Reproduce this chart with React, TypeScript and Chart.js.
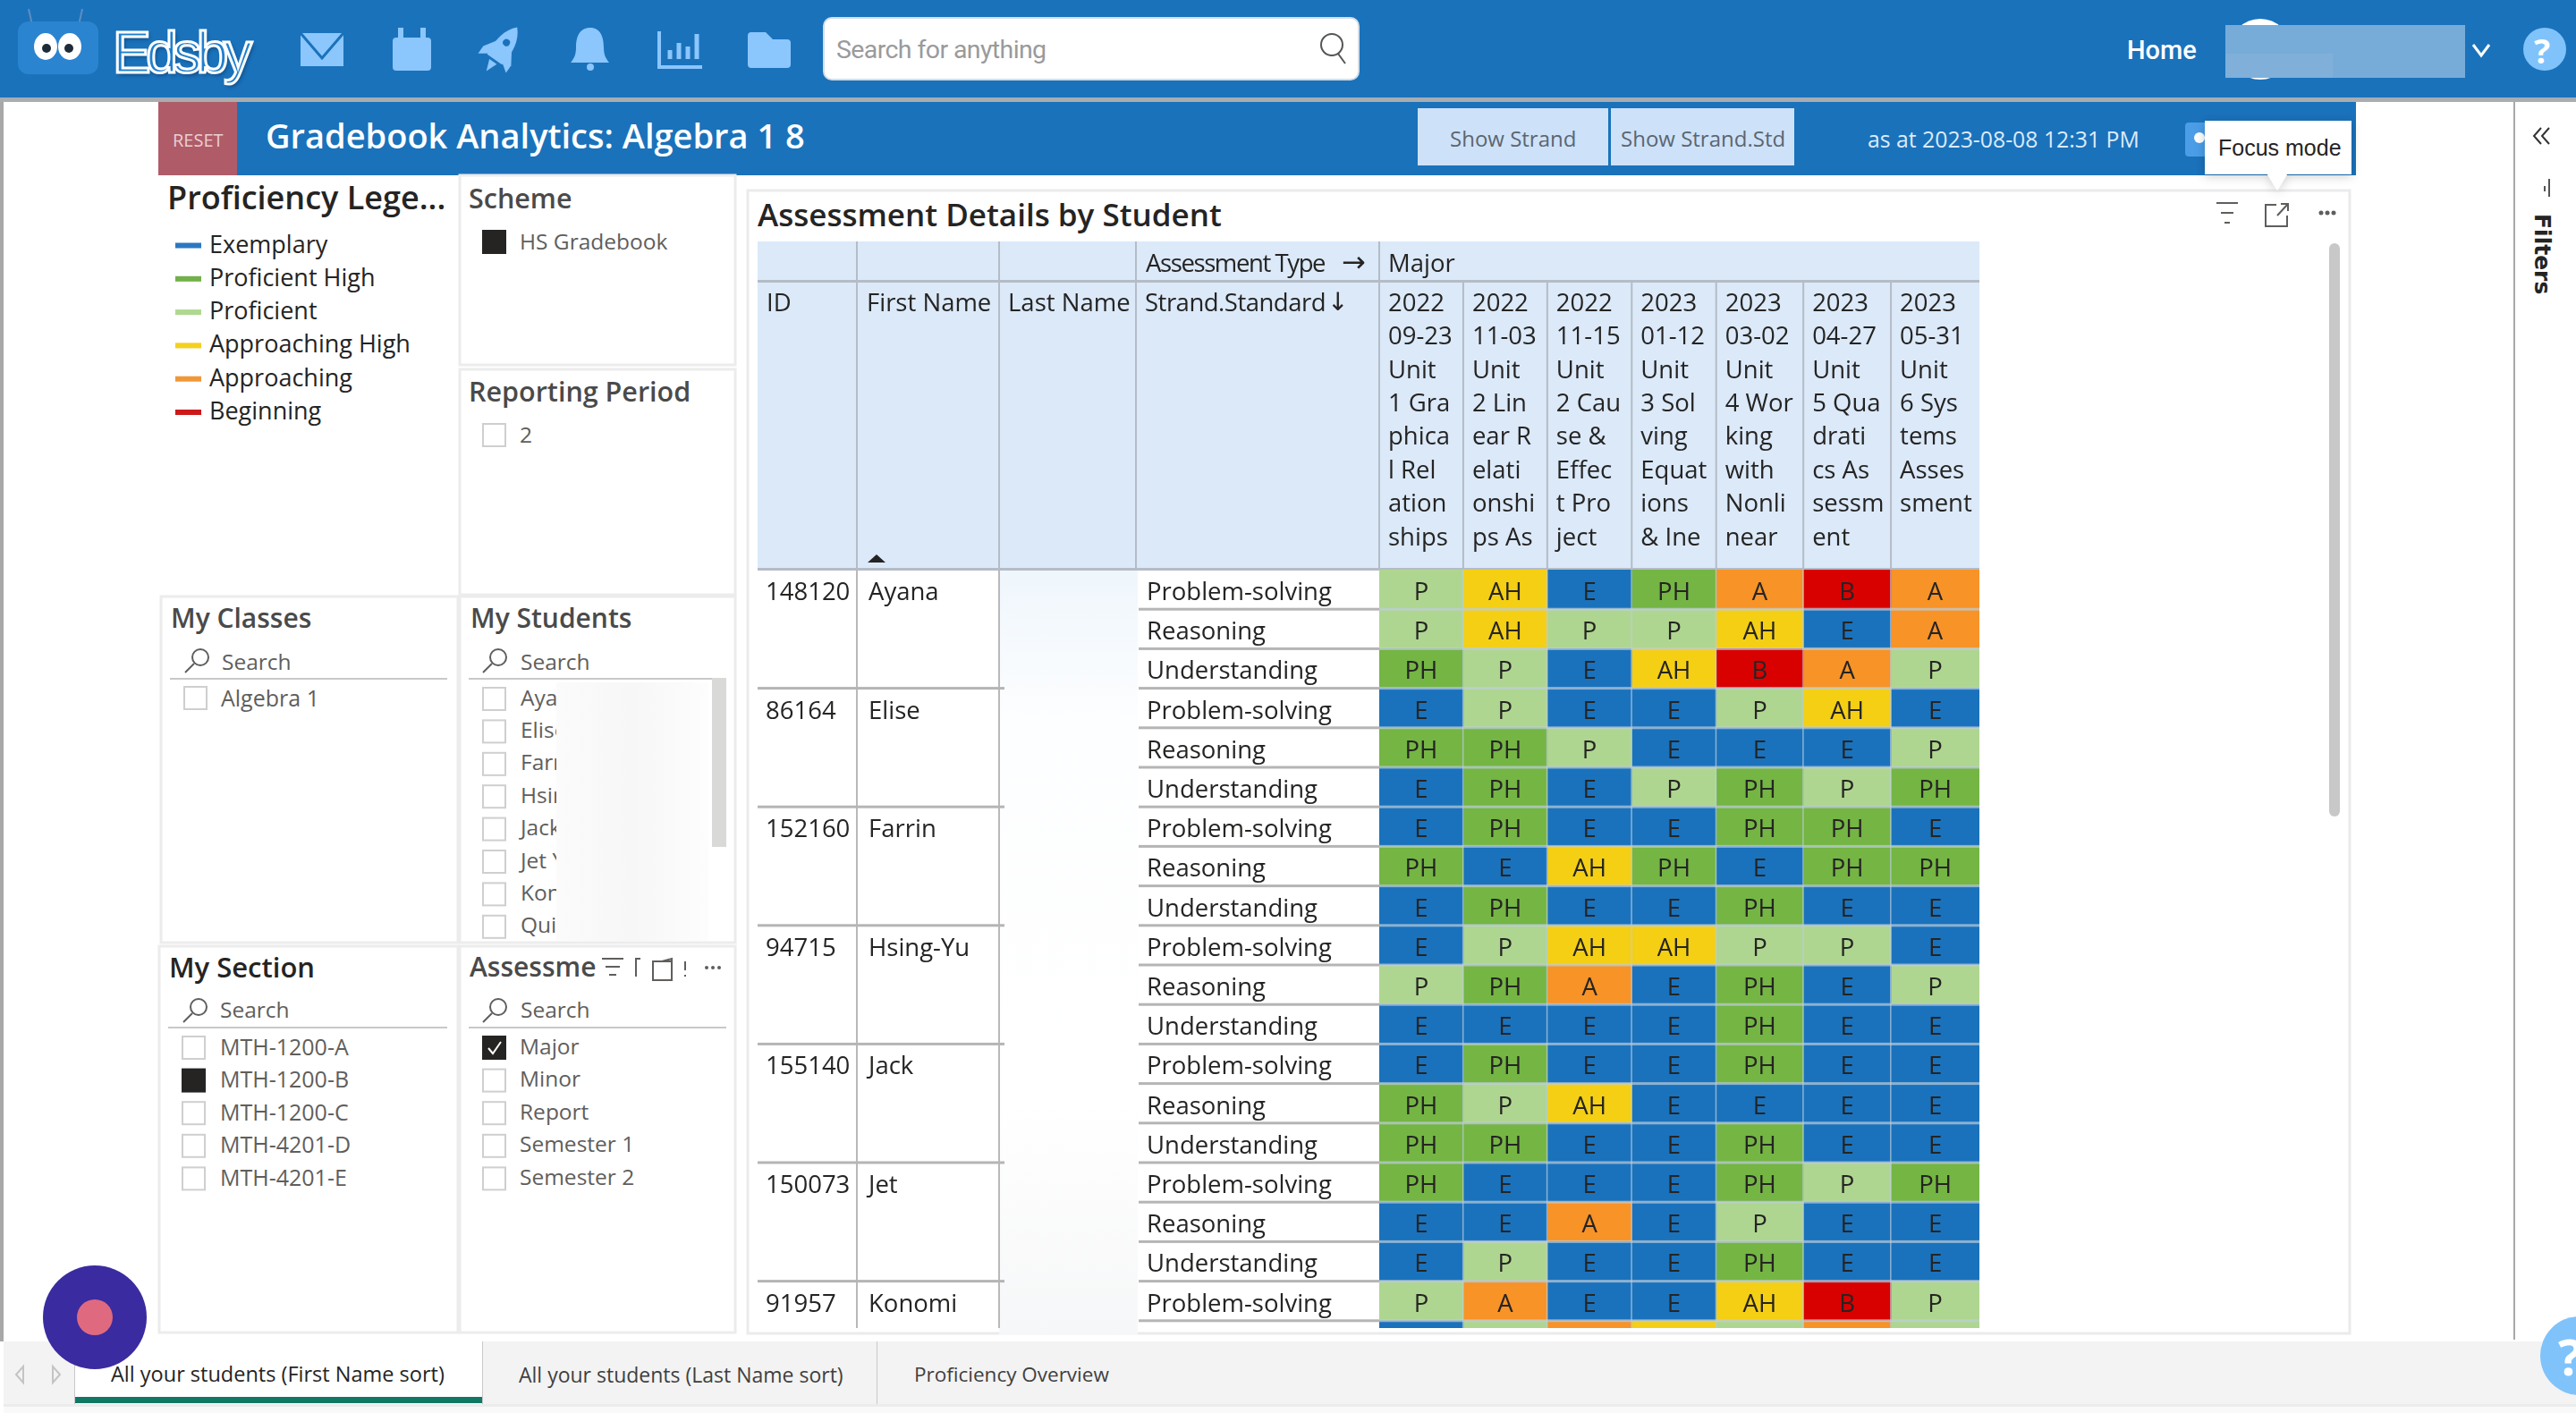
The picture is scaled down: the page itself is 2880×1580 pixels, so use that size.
import { useEffect, useRef } from 'react'
import { Chart, registerables } from 'chart.js'

Chart.register(...registerables)

const FONT = '"Open Sans", sans-serif'
const NAV_FONT = 'Roboto, sans-serif'

// table content
const studentIds = ['148120', '86164', '152160', '94715', '155140', '150073', '91957']
const firstNames = ['Ayana', 'Elise', 'Farrin', 'Hsing-Yu', 'Jack', 'Jet', 'Konomi']
const strands = ['Problem-solving', 'Reasoning', 'Understanding']
const headerTitles = ['ID', 'First Name', 'Last Name', 'Strand.Standard']
const assessmentHeaders = [
  ['2022', '09-23', 'Unit', '1 Gra', 'phica', 'l Rel', 'ation', 'ships'],
  ['2022', '11-03', 'Unit', '2 Lin', 'ear R', 'elati', 'onshi', 'ps As'],
  ['2022', '11-15', 'Unit', '2 Cau', 'se &', 'Effec', 't Pro', 'ject'],
  ['2023', '01-12', 'Unit', '3 Sol', 'ving', 'Equat', 'ions', '& Ine'],
  ['2023', '03-02', 'Unit', '4 Wor', 'king', 'with', 'Nonli', 'near'],
  ['2023', '04-27', 'Unit', '5 Qua', 'drati', 'cs As', 'sessm', 'ent'],
  ['2023', '05-31', 'Unit', '6 Sys', 'tems', 'Asses', 'sment', ''],
]

const ayanaGrades = [
  ['P', 'AH', 'E', 'PH', 'A', 'B', 'A'],
  ['P', 'AH', 'P', 'P', 'AH', 'E', 'A'],
  ['PH', 'P', 'E', 'AH', 'B', 'A', 'P'],
]
const eliseGrades = [
  ['E', 'P', 'E', 'E', 'P', 'AH', 'E'],
  ['PH', 'PH', 'P', 'E', 'E', 'E', 'P'],
  ['E', 'PH', 'E', 'P', 'PH', 'P', 'PH'],
]
const farrinGrades = [
  ['E', 'PH', 'E', 'E', 'PH', 'PH', 'E'],
  ['PH', 'E', 'AH', 'PH', 'E', 'PH', 'PH'],
  ['E', 'PH', 'E', 'E', 'PH', 'E', 'E'],
]
const hsingYuGrades = [
  ['E', 'P', 'AH', 'AH', 'P', 'P', 'E'],
  ['P', 'PH', 'A', 'E', 'PH', 'E', 'P'],
  ['E', 'E', 'E', 'E', 'PH', 'E', 'E'],
]
const jackGrades = [
  ['E', 'PH', 'E', 'E', 'PH', 'E', 'E'],
  ['PH', 'P', 'AH', 'E', 'E', 'E', 'E'],
  ['PH', 'PH', 'E', 'E', 'PH', 'E', 'E'],
]
const jetGrades = [
  ['PH', 'E', 'E', 'E', 'PH', 'P', 'PH'],
  ['E', 'E', 'A', 'E', 'P', 'E', 'E'],
  ['E', 'P', 'E', 'E', 'PH', 'E', 'E'],
]
const konomiGrades = [
  ['P', 'A', 'E', 'E', 'AH', 'B', 'P'],
  ['E', 'P', 'A', 'AH', 'P', 'A', 'P'],
]

const legendNames = ['Exemplary', 'Proficient High', 'Proficient', 'Approaching High', 'Approaching', 'Beginning']
const studentSlicer = ['Ayana', 'Elise', 'Farrin', 'Hsing', 'Jack', 'Jet Y', 'Konomi', 'Quinn']
const sectionSlicer = ['MTH-1200-A', 'MTH-1200-B', 'MTH-1200-C', 'MTH-4201-D', 'MTH-4201-E']
const assessmentSlicer = ['Major', 'Minor', 'Report', 'Semester 1', 'Semester 2']

// styles and table layout
const gradeColors: Record<string, string> = {
  E: '#1a72bc', PH: '#74b544', P: '#afd690', AH: '#f4cf14', A: '#f79327', B: '#d90000',
}
const legendColors = ['#2a78c0', '#72b04a', '#b0d890', '#f4d020', '#f09838', '#cc1a1a']
const leftColumnWidths = [111, 159, 153, 272]
const gradeColumnWidths = [94, 94, 94.5, 94.5, 97.5, 98, 99]
const HEADER_HEIGHT = 367
const ROW_HEIGHT = 44.2

const gradeRows = [
  ...ayanaGrades, ...eliseGrades, ...farrinGrades, ...hsingYuGrades,
  ...jackGrades, ...jetGrades, ...konomiGrades,
]
const rowLabels = gradeRows.map((_, i) => strands[i % 3])

const tableText = '#252423'
const cellFont = `27.5px ${FONT}`
const arrowFont = '32px "DejaVu Sans", sans-serif'
const TEXT_NUDGE = 4

const tablePlugin = {
  id: 'tableGrid',
  beforeDatasetsDraw(chart: any) {
    const { ctx, chartArea, scales } = chart
    const right = chartArea.right
    ctx.save()
    ctx.fillStyle = '#dbe9f9'
    ctx.fillRect(0, 0, right, HEADER_HEIGHT)

    ctx.font = cellFont
    ctx.fillStyle = tableText
    ctx.textBaseline = 'middle'
    ctx.textAlign = 'left'

    let left = 0
    leftColumnWidths.forEach((w, i) => {
      ctx.letterSpacing = i === 3 ? '-0.5px' : '0px'
      ctx.fillText(headerTitles[i], left + (i === 1 ? 11 : 10), 70)
      left += w
      ctx.fillStyle = '#b4bcc6'
      ctx.fillRect(left - 1, 0, 2, HEADER_HEIGHT)
      ctx.fillStyle = tableText
    })
    ctx.letterSpacing = '-1.4px'
    ctx.fillText('Assessment Type', chartArea.left - 261, 26)
    ctx.letterSpacing = '0px'
    ctx.fillText('Major', chartArea.left + 10, 26)
    ctx.font = arrowFont
    ctx.fillText('→', chartArea.left - 42, 26)
    ctx.font = `28px "DejaVu Sans", sans-serif`
    ctx.fillText('↓', chartArea.left - 58, 70)
    ctx.font = cellFont

    let sum = 0
    gradeColumnWidths.forEach((w, c) => {
      const colLeft = scales.x.getPixelForValue(sum)
      assessmentHeaders[c].forEach((line, l) => {
        ctx.fillText(line, colLeft + 10, 70 + l * 37.4)
      })
      sum += w
      if (c < gradeColumnWidths.length - 1) {
        ctx.fillStyle = '#b4bcc6'
        ctx.fillRect(scales.x.getPixelForValue(sum) - 1, 45, 2, HEADER_HEIGHT - 45)
        ctx.fillStyle = tableText
      }
    })

    ctx.fillStyle = '#b4bcc6'
    ctx.fillRect(0, 43, right, 3)
    ctx.fillRect(0, HEADER_HEIGHT - 2, right, 3)

    // sort marker
    ctx.fillStyle = '#252423'
    ctx.beginPath()
    ctx.moveTo(123, 359)
    ctx.lineTo(143, 359)
    ctx.lineTo(133, 350)
    ctx.closePath()
    ctx.fill()

    // row header columns
    const yScale = scales.y
    const band = yScale.getPixelForValue(1) - yScale.getPixelForValue(0)
    const idColumn = leftColumnWidths[0]
    const nameColumn = idColumn + leftColumnWidths[1]
    const strandLeft = nameColumn + leftColumnWidths[2] + 156 - 153
    ctx.fillStyle = '#b9b9b9'
    ctx.fillRect(idColumn - 1, HEADER_HEIGHT, 2, chart.height - HEADER_HEIGHT)
    ctx.fillRect(nameColumn - 1, HEADER_HEIGHT, 2, chart.height - HEADER_HEIGHT)

    rowLabels.forEach((_, i) => {
      const mid = yScale.getPixelForValue(i)
      ctx.fillStyle = tableText
      ctx.fillText(yScale.getLabelForValue(i), strandLeft + 9, mid + TEXT_NUDGE)
      if (i % 3 === 0) {
        const s = i / 3
        ctx.fillText(studentIds[s], 9, mid + TEXT_NUDGE)
        ctx.fillText(firstNames[s], idColumn + 13, mid + TEXT_NUDGE)
      }
      ctx.fillStyle = '#b5b5b5'
      const bottom = mid + band / 2
      ctx.fillRect(strandLeft, bottom - 1.5, chartArea.left - strandLeft, 3)
      if (i % 3 === 2) ctx.fillRect(0, bottom - 1.5, nameColumn + 6, 3)
    })
    ctx.restore()
  },
  afterDatasetsDraw(chart: any) {
    const { ctx, chartArea, scales } = chart
    const yScale = scales.y
    const band = yScale.getPixelForValue(1) - yScale.getPixelForValue(0)
    ctx.save()
    ctx.fillStyle = 'rgba(190, 205, 220, 0.7)'
    rowLabels.forEach((_, i) => {
      const bottom = yScale.getPixelForValue(i) + band / 2
      ctx.fillRect(chartArea.left, bottom - 1.5, chartArea.right - chartArea.left, 3)
    })
    let sum = 0
    gradeColumnWidths.slice(0, -1).forEach((w) => {
      sum += w
      ctx.fillRect(scales.x.getPixelForValue(sum) - 1, chartArea.top, 1.5, chartArea.bottom - chartArea.top)
    })

    ctx.font = cellFont
    ctx.fillStyle = '#252423'
    ctx.textAlign = 'center'
    ctx.textBaseline = 'middle'
    chart.data.datasets.forEach((_: any, c: number) => {
      chart.getDatasetMeta(c).data.forEach((bar: any, r: number) => {
        const p = bar.getProps(['x', 'y', 'base'], true)
        ctx.fillText(gradeRows[r][c], (p.x + p.base) / 2, p.y + TEXT_NUDGE)
      })
    })
    ctx.restore()
  },
}

function GradeTable() {
  const canvasRef = useRef<HTMLCanvasElement>(null)

  useEffect(() => {
    if (!canvasRef.current) return
    const chart = new Chart(canvasRef.current, {
      type: 'bar',
      data: {
        labels: rowLabels,
        datasets: gradeColumnWidths.map((w, c) => ({
          label: assessmentHeaders[c].join(' '),
          data: gradeRows.map(() => w),
          backgroundColor: gradeRows.map((row) => gradeColors[row[c]]),
          barPercentage: 1,
          categoryPercentage: 1,
          borderWidth: 0,
        })),
      },
      options: {
        indexAxis: 'y',
        animation: false,
        responsive: false,
        devicePixelRatio: 1,
        layout: { padding: { left: 695, top: HEADER_HEIGHT, right: 0, bottom: 0 } },
        plugins: { legend: { display: false }, tooltip: { enabled: false } },
        scales: {
          x: { type: 'linear', stacked: true, display: false, min: 0, max: gradeColumnWidths.reduce((a, b) => a + b, 0) },
          y: { type: 'category', stacked: true, display: false },
        },
      },
      plugins: [tablePlugin],
    })
    return () => chart.destroy()
  }, [])

  return (
    <div style={{ position: 'absolute', left: 847, top: 270, width: 1366, height: 1215, overflow: 'hidden' }}>
      <canvas
        ref={canvasRef}
        width={1366}
        height={HEADER_HEIGHT + ROW_HEIGHT * gradeRows.length}
        style={{ display: 'block' }}
      />
    </div>
  )
}

function T({ x, y, size = 25, weight = 400, color = '#605e5c', font = FONT, spacing = 0, children }: any) {
  return (
    <div
      style={{
        position: 'absolute', left: x, top: y - 1.5, transform: 'translateY(-50%)', fontFamily: font,
        fontSize: size, fontWeight: weight, color, whiteSpace: 'nowrap', lineHeight: 1, letterSpacing: spacing,
      }}
    >
      {children}
    </div>
  )
}

function Panel({ x, y, w, h }: any) {
  return <rect x={x} y={y} width={w} height={h} fill="#fff" stroke="#ececec" strokeWidth={3} />
}

function Box({ x, y, filled = false, check = false }: any) {
  return (
    <g>
      <rect x={x} y={y} width={25} height={25} fill={filled ? '#252423' : '#fff'} stroke={filled ? '#252423' : '#cfcfcf'} strokeWidth={2} />
      {check && <path d={`M${x + 6} ${y + 13}l5 6l9 -13`} fill="none" stroke="#fff" strokeWidth={2} />}
    </g>
  )
}

function SearchGlass({ x, y }: any) {
  return (
    <g fill="none" stroke="#605e5c" strokeWidth={2}>
      <circle cx={x + 4} cy={y - 4} r={9} />
      <path d={`M${x - 3} ${y + 3}L${x - 13} ${y + 13}`} />
    </g>
  )
}

function Chrome() {
  const iconBlue = '#8bc6fd'
  return (
    <svg width={2880} height={1580} style={{ position: 'absolute', left: 0, top: 0 }}>
      <defs>
        <linearGradient id="blurTop" x1="0" y1="0" x2="0" y2="1">
          <stop offset="0" stopColor="#eff6fc" />
          <stop offset="0.2" stopColor="#fdfeff" />
          <stop offset="0.7" stopColor="#ffffff" />
          <stop offset="1" stopColor="#f6f7f8" />
        </linearGradient>
        <filter id="tipShadow" x="-20%" y="-20%" width="140%" height="150%">
          <feDropShadow dx="0" dy="2" stdDeviation="6" floodColor="#000" floodOpacity="0.2" />
        </filter>
      </defs>

      {/* page frame */}
      <rect x={0} y={0} width={2880} height={1580} fill="#fff" />
      <rect x={0} y={114} width={4} height={1386} fill="#a8a8a8" />
      <rect x={2810} y={114} width={2} height={1384} fill="#a8a8a8" />

      {/* nav bar */}
      <rect x={0} y={0} width={2880} height={109} fill="#1a72bb" />
      <rect x={0} y={109} width={2880} height={5} fill="#a9adb1" />
      <path d="M36 28l-4 -18M88 28l4 -18" stroke="#5d8fc0" strokeWidth={2} />
      <rect x={20} y={24} width={90} height={59} rx={12} fill="#2b84d0" />
      <ellipse cx={51} cy={52} rx={13} ry={15} fill="#fff" />
      <ellipse cx={78} cy={52} rx={13} ry={15} fill="#fff" />
      <circle cx={52} cy={54} r={5} fill="#1e2c3a" />
      <circle cx={77} cy={54} r={5} fill="#1e2c3a" />

      <path d="M336 37h48v37h-48z" fill={iconBlue} />
      <path d="M336 37l24 28l24 -28" fill="none" stroke="#1a72bb" strokeWidth={3} />
      <rect x={439} y={42} width={43} height={37} rx={4} fill={iconBlue} />
      <path d="M448 31v14M473 31v14" stroke={iconBlue} strokeWidth={6} />
      <g transform="rotate(35 561 55)" fill={iconBlue}>
        <path d="M561 25c10 10 13 26 10 44h-20c-3 -18 0 -34 10 -44z" />
        <path d="M551 50l-9 14v10l10 -7z" />
        <path d="M571 50l9 14v10l-10 -7z" />
        <path d="M556 72h10l-5 13z" />
        <circle cx={561} cy={46} r={4} fill="#1a72bb" />
      </g>
      <path d="M660 31c-12 0 -16 10 -16 22c0 8 -2 12 -6 17h43c-4 -5 -6 -9 -6 -17c0 -12 -4 -22 -15 -22z" fill={iconBlue} />
      <circle cx={660} cy={75} r={4} fill={iconBlue} />
      <path d="M737 35v40h48" fill="none" stroke={iconBlue} strokeWidth={4} />
      <path d="M749 56v10M759 48v18M769 52v14M779 38v28" stroke={iconBlue} strokeWidth={5} />
      <path d="M836 40q0 -4 4 -4h16l8 8h16q4 0 4 4v24q0 4 -4 4h-40q-4 0 -4 -4z" fill={iconBlue} />

      <rect x={921} y={20} width={598} height={69} rx={9} fill="#fff" stroke="#d3dde6" strokeWidth={2} />
      <g fill="none" stroke="#555" strokeWidth={2}>
        <circle cx={1489} cy={50} r={12} />
        <path d="M1496 60l8 11" />
      </g>

      <circle cx={2527} cy={55} r={34} fill="#fff" />
      <rect x={2488} y={28} width={268} height={59} fill="#78acd8" />
      <rect x={2488} y={60} width={120} height={27} fill="#80b0da" />
      <path d="M2765 50l9 12l9 -12" fill="none" stroke="#fff" strokeWidth={3} />
      <circle cx={2845} cy={55} r={24} fill="#80c3fb" />

      {/* report banner */}
      <rect x={177} y={114} width={2457} height={82} fill="#1a72bb" />
      <rect x={177} y={114} width={88} height={82} fill="#b05b68" />
      <rect x={1585} y={121} width={213} height={64} fill="#cde2f9" />
      <rect x={1801} y={121} width={205} height={64} fill="#cde2f9" />
      <rect x={2443} y={137} width={30} height={38} rx={4} fill="#4a9de6" />
      <circle cx={2459} cy={154} r={6} fill="#fff" />

      {/* slicer panels */}
      <Panel x={514} y={196} w={308} h={212} />
      <Panel x={514} y={413} w={308} h={252} />
      <Panel x={180} y={667} w={332} h={387} />
      <Panel x={514} y={667} w={308} h={387} />
      <Panel x={178} y={1058} w={334} h={432} />
      <Panel x={514} y={1058} w={308} h={432} />

      {legendColors.map((color, i) => (
        <rect key={color} x={196} y={271.5 + i * 37.3} width={29} height={6} fill={color} />
      ))}

      <Box x={540} y={258} filled />
      <Box x={540} y={474} />
      <Box x={206} y={768} />
      {studentSlicer.map((name, i) => <Box key={name} x={540} y={769 + i * 36.4} />)}
      {sectionSlicer.map((name, i) => <Box key={name} x={204} y={1159 + i * 36.6} filled={i === 1} />)}
      {assessmentSlicer.map((name, i) => <Box key={name} x={540} y={1159 + i * 36.6} filled={i === 0} check={i === 0} />)}

      {[[190, 500, 758], [524, 812, 758], [188, 500, 1148], [524, 812, 1148]].map(([a, b, y]) => (
        <rect key={`${a}-${y}`} x={a} y={y} width={b - a} height={2} fill="#c8c8c8" />
      ))}
      <SearchGlass x={220} y={739} />
      <SearchGlass x={553} y={739} />
      <SearchGlass x={218} y={1130} />
      <SearchGlass x={553} y={1130} />

      <rect x={796} y={758} width={16} height={189} fill="#d9d9d7" />

      {/* assessment slicer header icons */}
      <g fill="none" stroke="#605e5c" strokeWidth={2}>
        <path d="M673 1072h24M677 1081h16M681 1090h8" />
        <path d="M711 1092v-20h5" />
        <rect x={730} y={1075} width={21} height={21} />
        <path d="M740 1075l11 -3v10" />
        <path d="M766 1075v10M766 1090v2" />
      </g>
      <g fill="#605e5c">
        <circle cx={790} cy={1082} r={2} /><circle cx={797} cy={1082} r={2} /><circle cx={804} cy={1082} r={2} />
      </g>

      {/* table visual */}
      <rect x={836} y={213} width={1791} height={1278} fill="#fff" stroke="#ebebeb" strokeWidth={3} />
      <rect x={1117} y={637} width={155} height={856} fill="url(#blurTop)" />
      <rect x={2604} y={272} width={12} height={641} rx={6} fill="#c8c8c8" />
      <g fill="none" stroke="#605e5c" strokeWidth={2}>
        <path d="M2478 227h24M2483 238h14M2487 249h6" />
        <path d="M2545 229h-12v24h24v-12M2546 241l12 -13M2550 228h8v8" />
      </g>
      <g fill="#605e5c">
        <circle cx={2595} cy={238} r={2.5} /><circle cx={2602} cy={238} r={2.5} /><circle cx={2609} cy={238} r={2.5} />
      </g>

      {/* filters pane */}
      <path d="M2846 143l-8 9l8 9M2855 143l-8 9l8 9" fill="none" stroke="#333" strokeWidth={2} transform="translate(-5 0)" />
      <path d="M2850 200v20M2845 208v6" stroke="#555" strokeWidth={2} />

      {/* tabs */}
      <rect x={4} y={1500} width={2876} height={70} fill="#f3f3f3" />
      <rect x={4} y={1570} width={2876} height={3} fill="#ececec" />
      <rect x={4} y={1573} width={2876} height={7} fill="#f9f9f9" />
      <rect x={83} y={1500} width={456} height={70} fill="#fff" />
      <rect x={83} y={1562} width={456} height={7} fill="#117865" />
      <rect x={83} y={1500} width={1} height={70} fill="#c8c8c8" />
      <rect x={539} y={1500} width={1} height={70} fill="#c8c8c8" />
      <rect x={980} y={1500} width={1} height={70} fill="#c8c8c8" />
      <path d="M26 1528l-8 9l8 9zM59 1528l8 9l-8 9z" fill="none" stroke="#c4c4c4" strokeWidth={2} />
      <circle cx={2884} cy={1516} r={44} fill="#80c3fb" />

      {/* recording badge */}
      <circle cx={106} cy={1473} r={58} fill="#3a2ba0" />
      <circle cx={106} cy={1473} r={20} fill="#df6a80" />

      {/* focus mode tooltip */}
      <g filter="url(#tipShadow)">
        <path d="M2465 135h164v60h-72l-11 18l-11 -18h-70z" fill="#fff" />
      </g>
    </svg>
  )
}

export default function App() {
  const dark = '#252423'
  const head = '#4a4a4a'
  return (
    <div style={{ position: 'absolute', left: 0, top: 0, width: 2880, height: 1580, overflow: 'hidden', background: '#fff' }}>
      <Chrome />

      <T x={126} y={60} size={64} color="#1f7fce" font='"Liberation Sans", sans-serif' spacing={-5.5}>
        <span style={{ WebkitTextStroke: '3px #fff', textShadow: '2px 3px 4px rgba(0, 30, 70, 0.45)' }}>Edsby</span>
      </T>
      <T x={935} y={57.5} size={28.5} color="#9a9a9a" font={NAV_FONT} spacing={-0.6}>Search for anything</T>
      <T x={2378} y={57.5} size={29} color="#fff" font={NAV_FONT} weight={500}>Home</T>
      <T x={2833} y={57} size={38} color="#fff" weight={700}>?</T>
      <T x={2860} y={1517} size={56} color="#fff" weight={700}>?</T>

      <T x={193} y={158} size={20} color="#e8d0d4">RESET</T>
      <T x={297} y={152} size={38} color="#fff" weight={600}>Gradebook Analytics: Algebra 1 8</T>
      <T x={1621} y={156} size={24} color="#5c6670">Show Strand</T>
      <T x={1812} y={156} size={24} color="#5c6670">Show Strand.Std</T>
      <T x={2088} y={156} size={24.8} color="#dcebfa">as at 2023-08-08 12:31 PM</T>
      <T x={2480} y={166.5} size={25} color="#252423" font='"Liberation Sans", sans-serif'>Focus mode</T>

      <T x={187} y={222} size={36} color={dark} weight={600}>Proficiency Lege...</T>
      {legendNames.map((name, i) => (
        <T key={name} x={234} y={273 + i * 37.3} size={27} color={dark}>{name}</T>
      ))}
      <T x={524} y={222} size={30.5} color={head} weight={600}>Scheme</T>
      <T x={581} y={271} size={24.5}>HS Gradebook</T>
      <T x={524} y={438} size={30.5} color={head} weight={600}>Reporting Period</T>
      <T x={581} y={487} size={24.5}>2</T>

      <T x={191} y={692} size={30} color={head} weight={600}>My Classes</T>
      <T x={526} y={692} size={30} color={head} weight={600}>My Students</T>
      <T x={248} y={741} size={24.5}>Search</T>
      <T x={582} y={741} size={24.5}>Search</T>
      <T x={247} y={781} size={25}>Algebra 1</T>
      {studentSlicer.map((name, i) => (
        <T key={name} x={582} y={781 + i * 36.4} size={24.5}>{name}</T>
      ))}
      {/* the student names are blurred out past this point */}
      <div
        style={{
          position: 'absolute', left: 622, top: 763, width: 170, height: 289,
          background: 'linear-gradient(90deg, #fbfbfb, #f7f7f7 50%, #fdfdfd)',
        }}
      />

      <T x={189} y={1082} size={31} color={dark} weight={600}>My Section</T>
      <T x={525} y={1082} size={30} color={head} weight={600}>Assessme</T>
      <T x={246} y={1130} size={24.5}>Search</T>
      <T x={582} y={1130} size={24.5}>Search</T>
      {sectionSlicer.map((name, i) => (
        <T key={name} x={246} y={1171 + i * 36.6} size={25}>{name}</T>
      ))}
      {assessmentSlicer.map((name, i) => (
        <T key={name} x={581} y={1171 + i * 36.6} size={24.5}>{name}</T>
      ))}

      <T x={847} y={240} size={35} color={dark} weight={600}>Assessment Details by Student</T>
      <GradeTable />

      <div
        style={{
          position: 'absolute', left: 2830, top: 239, fontFamily: '"DejaVu Sans", sans-serif', fontSize: 25,
          fontWeight: 700, color: '#252423', writingMode: 'vertical-rl', lineHeight: 1,
        }}
      >
        Filters
      </div>

      <T x={124} y={1538.5} size={23.5} color={dark}>All your students (First Name sort)</T>
      <T x={580} y={1538.5} size={23} color="#3f3f3f">All your students (Last Name sort)</T>
      <T x={1022} y={1538.5} size={22.5} color="#3f3f3f">Proficiency Overview</T>
    </div>
  )
}
